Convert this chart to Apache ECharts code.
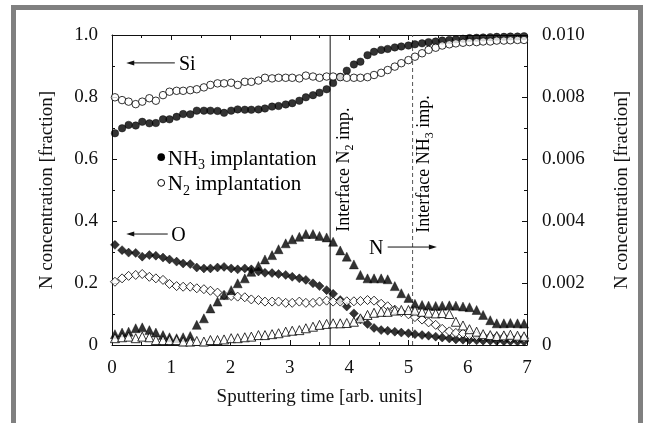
<!DOCTYPE html>
<html>
<head>
<meta charset="utf-8">
<script src="https://cdn.jsdelivr.net/npm/echarts@6/dist/echarts.min.js"></script>
<style>
  html, body { margin: 0; padding: 0; background: #fff; }
  #main { width: 646px; height: 423px; }
</style>
</head>
<body>
<div id="main"></div>
<script>
var myChart = echarts.init(document.getElementById('main'));

// sputtering time (x) of every measured point
var time = [0.05, 0.17, 0.28, 0.40, 0.51, 0.63, 0.74, 0.86, 0.97, 1.09,
            1.20, 1.32, 1.43, 1.55, 1.66, 1.78, 1.89, 2.01, 2.12, 2.24,
            2.35, 2.47, 2.58, 2.70, 2.81, 2.93, 3.04, 3.16, 3.27, 3.39,
            3.50, 3.62, 3.73, 3.85, 3.96, 4.08, 4.19, 4.31, 4.42, 4.54,
            4.65, 4.77, 4.88, 5.00, 5.11, 5.23, 5.34, 5.46, 5.57, 5.69,
            5.80, 5.92, 6.03, 6.15, 6.26, 6.38, 6.49, 6.61, 6.72, 6.84, 6.95];

// Si, left axis
var siNH3 = [0.683, 0.699, 0.710, 0.708, 0.720, 0.715, 0.716, 0.728, 0.728, 0.736,
             0.745, 0.744, 0.756, 0.756, 0.756, 0.755, 0.749, 0.756, 0.760, 0.759,
             0.759, 0.760, 0.763, 0.769, 0.771, 0.776, 0.780, 0.788, 0.799, 0.806,
             0.814, 0.825, 0.845, 0.865, 0.885, 0.905, 0.914, 0.935, 0.946, 0.952,
             0.955, 0.960, 0.963, 0.966, 0.970, 0.973, 0.977, 0.979, 0.982, 0.984,
             0.986, 0.988, 0.990, 0.991, 0.992, 0.993, 0.994, 0.994, 0.995, 0.995, 0.996];
var siN2 = [0.799, 0.790, 0.785, 0.777, 0.785, 0.796, 0.788, 0.806, 0.817, 0.820,
            0.820, 0.822, 0.825, 0.831, 0.839, 0.844, 0.844, 0.846, 0.839, 0.849,
            0.849, 0.853, 0.862, 0.860, 0.862, 0.862, 0.862, 0.860, 0.869, 0.866,
            0.862, 0.866, 0.866, 0.864, 0.862, 0.862, 0.862, 0.864, 0.871, 0.878,
            0.887, 0.898, 0.909, 0.919, 0.930, 0.941, 0.952, 0.959, 0.966, 0.970,
            0.973, 0.975, 0.977, 0.977, 0.979, 0.979, 0.982, 0.982, 0.983, 0.984, 0.984];

// O, left axis
var oNH3 = [0.323, 0.306, 0.298, 0.297, 0.285, 0.290, 0.288, 0.282, 0.276, 0.269,
            0.263, 0.261, 0.250, 0.247, 0.247, 0.250, 0.252, 0.247, 0.244, 0.247,
            0.244, 0.237, 0.233, 0.232, 0.229, 0.226, 0.220, 0.215, 0.210, 0.199,
            0.190, 0.177, 0.165, 0.145, 0.124, 0.102, 0.083, 0.068, 0.055, 0.048,
            0.046, 0.043, 0.040, 0.038, 0.035, 0.032, 0.030, 0.027, 0.024, 0.021,
            0.018, 0.017, 0.016, 0.015, 0.014, 0.014, 0.013, 0.012, 0.012, 0.011, 0.011];
var oN2 = [0.204, 0.215, 0.223, 0.226, 0.229, 0.220, 0.215, 0.210, 0.197, 0.190,
           0.188, 0.188, 0.183, 0.180, 0.175, 0.169, 0.161, 0.158, 0.156, 0.154,
           0.147, 0.145, 0.140, 0.140, 0.140, 0.136, 0.136, 0.140, 0.136, 0.136,
           0.140, 0.143, 0.140, 0.140, 0.141, 0.141, 0.142, 0.145, 0.143, 0.133,
           0.125, 0.114, 0.106, 0.099, 0.090, 0.082, 0.073, 0.065, 0.052, 0.044,
           0.039, 0.037, 0.032, 0.029, 0.028, 0.027, 0.026, 0.025, 0.022, 0.023, 0.022];

// N, right axis
var nNH3 = [0.00035, 0.00040, 0.00043, 0.00054, 0.00057, 0.00048, 0.00040, 0.00032, 0.00025, 0.00022,
            0.00025, 0.00029, 0.00065, 0.00086, 0.00118, 0.00140, 0.00161, 0.00177, 0.00199, 0.00215,
            0.00236, 0.00255, 0.00276, 0.00290, 0.00309, 0.00328, 0.00341, 0.00349, 0.00358, 0.00358,
            0.00352, 0.00347, 0.00333, 0.00305, 0.00285, 0.00260, 0.00226, 0.00215, 0.00215, 0.00215,
            0.00212, 0.00190, 0.00167, 0.00152, 0.00133, 0.00129, 0.00127, 0.00126, 0.00127, 0.00128,
            0.00127, 0.00124, 0.00122, 0.00113, 0.00097, 0.00080, 0.00070, 0.00070, 0.00071, 0.00070, 0.00069];
var nN2 = [0.00022, 0.00025, 0.00027, 0.00022, 0.00027, 0.00025, 0.00016, 0.00016, 0.00016, 0.00016,
           0.00011, 0.00011, 0.00013, 0.00011, 0.00016, 0.00016, 0.00018, 0.00022, 0.00022, 0.00025,
           0.00027, 0.00032, 0.00032, 0.00035, 0.00038, 0.00043, 0.00046, 0.00048, 0.00054, 0.00059,
           0.00065, 0.00068, 0.00070, 0.00070, 0.00071, 0.00075, 0.00086, 0.00097, 0.00104, 0.00107,
           0.00107, 0.00111, 0.00113, 0.00113, 0.00111, 0.00107, 0.00104, 0.00102, 0.00103, 0.00100,
           0.00075, 0.00063, 0.00051, 0.00043, 0.00035, 0.00032, 0.00029, 0.00031, 0.00033, 0.00030, 0.00028];

// interface positions (sputtering time)
var interfaceN2 = 3.68;
var interfaceNH3 = 5.07;

var FONT = '"Liberation Serif", "Times New Roman", serif';
var INK = '#111';
var MARK = '#000';

function pairs(arr) {
    return time.map(function (t, i) { return [t, arr[i]]; });
}

var filled = { color: MARK, borderColor: MARK, borderWidth: 0.5 };
var hollow = { color: '#fff', borderColor: MARK, borderWidth: 1 };

var baseAxis = {
    axisLine: { onZero: false, lineStyle: { color: INK, width: 1 } },
    axisTick: { inside: true, length: 5, lineStyle: { color: INK } },
    minorTick: { show: true, splitNumber: 2, length: 3, lineStyle: { color: INK } },
    splitLine: { show: false },
    nameTextStyle: { fontFamily: FONT, fontSize: 19, color: INK }
};
var labelStyle = { fontFamily: FONT, fontSize: 19, color: INK };

var option = {
    animation: false,
    backgroundColor: '#fff',
    grid: { left: 112, right: 119, top: 35, bottom: 78 },
    xAxis: [
        Object.assign({}, baseAxis, {
            type: 'value', min: 0, max: 7, interval: 1, position: 'bottom',
            axisLabel: Object.assign({ margin: 14 }, labelStyle),
            name: 'Sputtering time [arb. units]', nameLocation: 'middle', nameGap: 43
        }),
        Object.assign({}, baseAxis, {
            type: 'value', min: 0, max: 7, interval: 1, position: 'top',
            axisLabel: { show: false }
        })
    ],
    yAxis: [
        Object.assign({}, baseAxis, {
            type: 'value', min: 0, max: 1, interval: 0.2, position: 'left',
            axisLabel: Object.assign({
                margin: 14,
                formatter: function (v) { return v === 0 ? '0' : v.toFixed(1); }
            }, labelStyle),
            name: 'N concentration [fraction]', nameLocation: 'middle', nameGap: 55
        }),
        Object.assign({}, baseAxis, {
            type: 'value', min: 0, max: 0.01, interval: 0.002, position: 'right',
            axisLabel: Object.assign({
                margin: 15,
                formatter: function (v) { return v === 0 ? '0' : v.toFixed(3); }
            }, labelStyle),
            name: 'N concentration [fraction]', nameLocation: 'middle', nameGap: 86,
            nameRotate: 90
        })
    ],
    series: [
        { type: 'line', data: [[interfaceN2, 0], [interfaceN2, 1]], symbol: 'none', silent: true,
          lineStyle: { color: INK, width: 1 }, z: 1 },
        { type: 'line', data: [[interfaceNH3, 0], [interfaceNH3, 1]], symbol: 'none', silent: true,
          lineStyle: { color: '#555', width: 1, type: [4, 3] }, z: 1 },
        { name: 'Si NH3', type: 'scatter', data: pairs(siNH3), symbol: 'circle', symbolSize: 7.5, itemStyle: filled },
        { name: 'Si N2', type: 'scatter', data: pairs(siN2), symbol: 'circle', symbolSize: 7.5, itemStyle: hollow },
        { name: 'O NH3', type: 'scatter', data: pairs(oNH3), symbol: 'diamond', symbolSize: 9, itemStyle: filled },
        { name: 'O N2', type: 'scatter', data: pairs(oN2), symbol: 'diamond', symbolSize: 9, itemStyle: hollow },
        { name: 'N NH3', type: 'scatter', yAxisIndex: 1, data: pairs(nNH3), symbol: 'triangle', symbolSize: 9, itemStyle: filled },
        { name: 'N N2', type: 'scatter', yAxisIndex: 1, data: pairs(nN2), symbol: 'triangle', symbolSize: 9, itemStyle: hollow }
    ]
};

myChart.setOption(option);

// annotations placed in data coordinates of the left axis
function px(x, y) {
    return myChart.convertToPixel({ xAxisIndex: 0, yAxisIndex: 0 }, [x, y]);
}

function richOf(size) {
    return {
        n: { fontFamily: FONT, fontSize: size, color: INK, lineHeight: size + 6 },
        s: { fontFamily: FONT, fontSize: Math.round(size * 0.66), color: INK,
             lineHeight: Math.round(size * 0.66), verticalAlign: 'bottom' }
    };
}

function arrow(x1, x2, y) {
    var a = px(x1, y), b = px(x2, y);
    var dir = b[0] > a[0] ? 1 : -1;
    return [
        { type: 'line', shape: { x1: a[0], y1: a[1], x2: b[0] - dir * 5, y2: b[1] },
          style: { stroke: INK, lineWidth: 1 }, z: 20 },
        { type: 'polygon', shape: { points: [[b[0], b[1]], [b[0] - dir * 8, b[1] - 2.5], [b[0] - dir * 8, b[1] + 2.5]] },
          style: { fill: INK }, z: 20 }
    ];
}

function label(x, y, text, size, align, dy) {
    var p = px(x, y);
    return { type: 'text', x: p[0], y: p[1] + (dy || 0), z: 20,
             style: { text: text, rich: richOf(size), align: align || 'left', verticalAlign: 'middle' } };
}

function vlabel(x, y, text) {
    var p = px(x, y);
    return { type: 'text', x: p[0], y: p[1], rotation: Math.PI / 2, z: 20,
             style: { text: text, rich: richOf(18), align: 'left', verticalAlign: 'middle' } };
}

var s1 = px(0.83, 0.606), s2 = px(0.83, 0.523);

var graphics = []
    .concat(arrow(1.06, 0.24, 0.91))
    .concat(arrow(0.94, 0.24, 0.358))
    .concat(arrow(4.65, 5.48, 0.316))
    .concat([
        label(1.13, 0.91, '{n|Si}', 20, 'left', 2),
        label(1.0, 0.358, '{n|O}', 20, 'left', 2),
        label(4.58, 0.316, '{n|N}', 20, 'right', 2),
        { type: 'circle', shape: { cx: s1[0], cy: s1[1], r: 3.8 }, style: { fill: MARK }, z: 20 },
        { type: 'circle', shape: { cx: s2[0], cy: s2[1], r: 3.4 }, style: { fill: '#fff', stroke: MARK, lineWidth: 1 }, z: 20 },
        label(0.94, 0.606, '{n|NH}{s|3}{n| implantation}', 21, 'left', 2),
        label(0.94, 0.523, '{n|N}{s|2}{n| implantation}', 21, 'left', 2),
        vlabel(3.91, 0.365, '{n|Interface N}{s|2}{n| imp.}'),
        vlabel(5.26, 0.362, '{n|Interface NH}{s|3}{n| imp.}'),
        { type: 'rect', shape: { x: 13.5, y: 7.5, width: 627, height: 480 },
          style: { fill: 'none', stroke: '#808080', lineWidth: 5 }, z: 30 }
    ]);

myChart.setOption({ graphic: graphics });
</script>
</body>
</html>
